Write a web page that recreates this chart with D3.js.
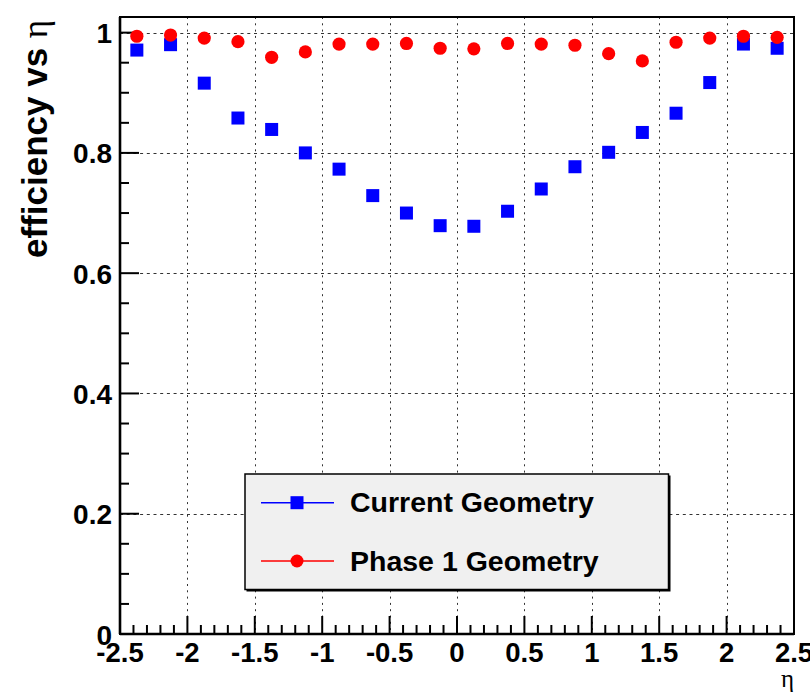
<!DOCTYPE html>
<html>
<head>
<meta charset="utf-8">
<script src="https://cdn.jsdelivr.net/npm/d3@7"></script>
<style>
  html, body { margin: 0; padding: 0; background: #fff; }
  svg { display: block; }
  text { font-family: "Liberation Sans", Arial, Helvetica, sans-serif; }
</style>
</head>
<body>
<svg id="chart" width="810" height="692"></svg>
<script>
// Bin centres in eta (bin width 0.25)
const etaBins = [-2.375, -2.125, -1.875, -1.625, -1.375, -1.125, -0.875, -0.625, -0.375, -0.125,
                  0.125,  0.375,  0.625,  0.875,  1.125,  1.375,  1.625,  1.875,  2.125,  2.375];

// Efficiency per bin
const currentGeometry = [0.971, 0.980, 0.916, 0.858, 0.839, 0.800, 0.773, 0.729, 0.700, 0.679,
                         0.678, 0.703, 0.740, 0.777, 0.801, 0.834, 0.866, 0.917, 0.981, 0.974];
const phase1Geometry  = [0.994, 0.996, 0.991, 0.985, 0.959, 0.968, 0.981, 0.981, 0.982, 0.974,
                         0.973, 0.982, 0.981, 0.979, 0.965, 0.953, 0.984, 0.991, 0.994, 0.992];

const xTicks = [-2.5, -2, -1.5, -1, -0.5, 0, 0.5, 1, 1.5, 2, 2.5];
const xTickLabels = ["-2.5", "-2", "-1.5", "-1", "-0.5", "0", "0.5", "1", "1.5", "2", "2.5"];
const yTicks = [0, 0.2, 0.4, 0.6, 0.8, 1];
const yTickLabels = ["0", "0.2", "0.4", "0.6", "0.8", "1"];

const seriesNames = ["Current Geometry", "Phase 1 Geometry"];
const seriesColors = ["#0000ff", "#ff0000"];

const svg = d3.select("#chart");
const L = 120, R = 794, T = 17, B = 634;

const x = d3.scaleLinear().domain([-2.5, 2.5]).range([L, R]);
const y = d3.scaleLinear().domain([0, 1.026]).range([B, T]);

// Grid (dotted) at major ticks
const grid = svg.append("g").attr("stroke", "#333").attr("stroke-width", 1).attr("fill", "none");
grid.selectAll("line.gx")
  .data(xTicks.filter(v => v > -2.5 && v < 2.5))
  .join("line")
  .attr("x1", d => Math.round(x(d)) + 0.5).attr("x2", d => Math.round(x(d)) + 0.5)
  .attr("y1", T).attr("y2", B)
  .attr("stroke-dasharray", "2,4.3");
grid.selectAll("line.gy")
  .data(yTicks.filter(v => v > 0))
  .join("line")
  .attr("y1", d => Math.round(y(d)) + 0.5).attr("y2", d => Math.round(y(d)) + 0.5)
  .attr("x1", L).attr("x2", R)
  .attr("stroke-dasharray", "3,3.7");

// Minor and major ticks, drawn inward
const ticks = svg.append("g").attr("stroke", "#000").attr("stroke-width", 2);
const xMinor = d3.range(-24, 25).map(i => i / 10).filter(v => Math.abs(Math.round(v * 2) - v * 2) > 1e-6);
ticks.selectAll("line.xmin").data(xMinor).join("line")
  .attr("x1", d => x(d)).attr("x2", d => x(d)).attr("y1", B).attr("y2", B - 9);
ticks.selectAll("line.xmaj").data(xTicks).join("line")
  .attr("x1", d => x(d)).attr("x2", d => x(d)).attr("y1", B).attr("y2", B - 18);
const yMinor = d3.range(1, 21).map(i => i * 0.05).filter(v => Math.abs(Math.round(v * 5) - v * 5) > 1e-6);
ticks.selectAll("line.ymin").data(yMinor).join("line")
  .attr("y1", d => y(d)).attr("y2", d => y(d)).attr("x1", L).attr("x2", L + 9);
ticks.selectAll("line.ymaj").data(yTicks).join("line")
  .attr("y1", d => y(d)).attr("y2", d => y(d)).attr("x1", L).attr("x2", L + 19);

// Frame
svg.append("rect")
  .attr("x", L).attr("y", T).attr("width", R - L).attr("height", B - T)
  .attr("fill", "none").attr("stroke", "#000").attr("stroke-width", 2);
svg.append("line").attr("x1", L).attr("x2", L).attr("y1", T).attr("y2", B)
  .attr("stroke", "#000").attr("stroke-width", 2.6);
svg.append("line").attr("x1", L).attr("x2", R).attr("y1", B).attr("y2", B)
  .attr("stroke", "#000").attr("stroke-width", 2.6);

// Tick labels
svg.append("g").selectAll("text").data(yTicks).join("text")
  .attr("x", 112).attr("y", d => y(d) + 10.5)
  .attr("text-anchor", "end").attr("font-size", 28).attr("font-weight", "bold")
  .text((d, i) => yTickLabels[i]);
svg.append("g").selectAll("text").data(xTicks).join("text")
  .attr("x", d => x(d)).attr("y", 662)
  .attr("text-anchor", "middle").attr("font-size", 27.5).attr("font-weight", "bold")
  .text((d, i) => xTickLabels[i]);

// Axis titles
const yTitle = svg.append("text")
  .attr("transform", "translate(47,258) rotate(-90)")
  .attr("font-size", 35).attr("font-weight", "bold");
yTitle.append("tspan").text("efficiency vs ");
yTitle.append("tspan").attr("font-weight", "normal")
  .style("font-family", "'Liberation Serif', 'DejaVu Serif', serif").text("η");

svg.append("text")
  .attr("x", 794).attr("y", 687).attr("text-anchor", "end")
  .attr("font-size", 25).style("font-family", "'Liberation Serif', 'DejaVu Serif', serif")
  .text("η");

// Data markers
const sq = 13;
svg.append("g").selectAll("rect").data(etaBins).join("rect")
  .attr("x", (d) => x(d) - sq / 2)
  .attr("y", (d, i) => y(currentGeometry[i]) - sq / 2)
  .attr("width", sq).attr("height", sq)
  .attr("fill", seriesColors[0]);
svg.append("g").selectAll("circle").data(etaBins).join("circle")
  .attr("cx", d => x(d))
  .attr("cy", (d, i) => y(phase1Geometry[i]))
  .attr("r", 6.6)
  .attr("fill", seriesColors[1]);

// Legend
const lg = svg.append("g");
lg.append("rect").attr("x", 246.5).attr("y", 475.5).attr("width", 424).attr("height", 116)
  .attr("fill", "#000");
lg.append("rect").attr("x", 245).attr("y", 474).attr("width", 423.5).attr("height", 115.5)
  .attr("fill", "#f0f0f0").attr("stroke", "#000").attr("stroke-width", 1.5);
const rows = [502.7, 561];
seriesNames.forEach((name, i) => {
  const ry = rows[i];
  lg.append("line").attr("x1", 261).attr("x2", 334).attr("y1", ry).attr("y2", ry)
    .attr("stroke", seriesColors[i]).attr("stroke-width", 1.6);
  if (i === 0) {
    lg.append("rect").attr("x", 297 - 6.5).attr("y", ry - 6.5).attr("width", 13).attr("height", 13)
      .attr("fill", seriesColors[i]);
  } else {
    lg.append("circle").attr("cx", 297).attr("cy", ry).attr("r", 6.5).attr("fill", seriesColors[i]);
  }
  lg.append("text").attr("x", 350).attr("y", ry + 9.5)
    .attr("font-size", 28.5).attr("font-weight", "bold").text(name);
});
</script>
</body>
</html>
